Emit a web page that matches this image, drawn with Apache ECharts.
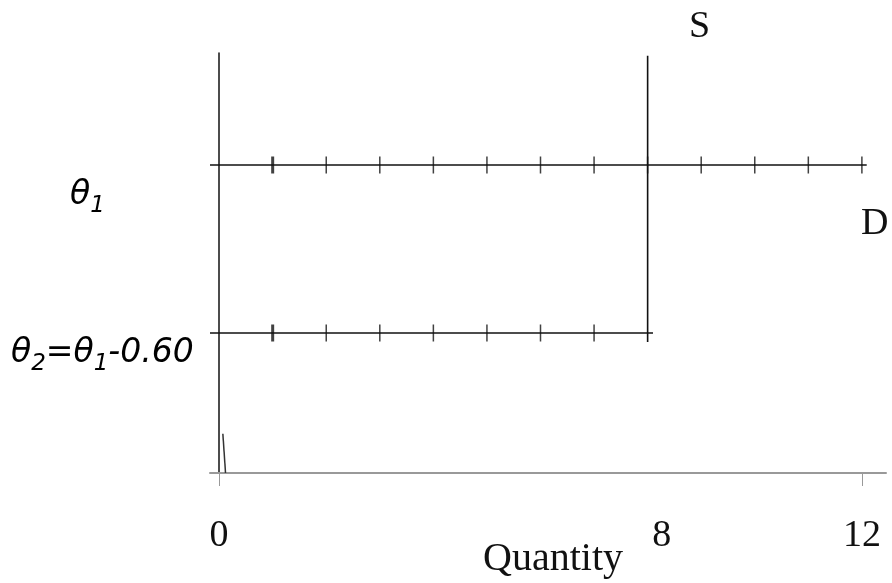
<!DOCTYPE html>
<html>
<head>
<meta charset="utf-8">
<script src="https://cdn.jsdelivr.net/npm/echarts@6/dist/echarts.min.js"></script>
<style>html,body{margin:0;padding:0;background:#fff}#c{width:892px;height:583px}</style>
</head>
<body>
<div id="c"></div>
<script>
// ---- data ----
var theta1 = 1.1;            // upper price level
var theta2 = 0.5;            // lower price level (theta1 - 0.60)
var supplyQty = 8;           // vertical supply at Q = 8
var upperLineX = [-0.17, 12.09];
var lowerLineX = [-0.17, 8.1];
var supplyY = [1.49, 0.468];
var upperTicks = [1, 2, 3, 4, 5, 6, 7, 8, 9, 10, 11, 12];
var lowerTicks = [1, 2, 3, 4, 5, 6, 7];
var originStub = [[0.07, 0.14], [0.12, 0.0]];
var xTickLabels = [0, 8, 12];
var xTickMarks = [0, 12];

var chart = echarts.init(document.getElementById('c'));
var serif = 'Liberation Serif';
var sans = 'DejaVu Sans';

function tickData(arr, y) {
  return arr.map(function (x) {
    return { value: [x, y], symbolSize: x === 1 ? [3, 17] : [1.5, 17] };
  });
}

var thetaRich = {
  m: { fontFamily: sans, fontStyle: 'italic', fontSize: 33, color: '#111', lineHeight: 44, verticalAlign: 'middle' },
  s: { fontFamily: sans, fontStyle: 'italic', fontSize: 23, color: '#111', lineHeight: 22, verticalAlign: 'bottom' }
};

var lineBase = { type: 'line', symbol: 'none', silent: true, clip: false };

chart.setOption({
  animation: false,
  grid: { left: 210, top: 53, width: 676, height: 420, outerBoundsMode: 'none', containLabel: false },
  xAxis: {
    type: 'value', min: -0.17, max: 12.45,
    splitLine: { show: false },
    axisLine: { onZero: false, lineStyle: { color: '#999', width: 2 } },
    axisTick: { show: true, customValues: xTickMarks, length: 13, lineStyle: { color: '#999', width: 1 } },
    axisLabel: {
      customValues: xTickLabels, fontFamily: serif, fontSize: 38, color: '#111', margin: 44,
      formatter: function (v) { return v === 8 ? '{e|8}' : String(v); },
      rich: { e: { fontFamily: serif, fontSize: 38, color: '#111', padding: [0, 0, 0, 28] } }
    },
    name: 'Quantity', nameLocation: 'middle', nameGap: 66, nameMoveOverlap: false,
    nameTextStyle: { fontFamily: serif, fontSize: 40, color: '#111', padding: [0, 0, 0, 10] }
  },
  yAxis: {
    type: 'value', min: 0, max: 1.5,
    splitLine: { show: false },
    axisLine: { show: true, onZero: true, lineStyle: { color: '#111', width: 1.5 } },
    axisTick: { show: false },
    axisLabel: { show: false }
  },
  series: [
    Object.assign({}, lineBase, { lineStyle: { color: '#111', width: 1.6 },
      data: [[upperLineX[0], theta1], [upperLineX[1], theta1]] }),
    Object.assign({}, lineBase, { lineStyle: { color: '#111', width: 1.6 },
      data: [[lowerLineX[0], theta2], [lowerLineX[1], theta2]] }),
    Object.assign({}, lineBase, { lineStyle: { color: '#111', width: 1.6 },
      data: [[supplyQty, supplyY[0]], [supplyQty, supplyY[1]]] }),
    Object.assign({}, lineBase, { lineStyle: { color: '#333', width: 1.5 },
      data: originStub }),
    { type: 'scatter', symbol: 'rect', silent: true, clip: false, itemStyle: { color: '#111' },
      data: tickData(upperTicks, theta1) },
    { type: 'scatter', symbol: 'rect', silent: true, clip: false, itemStyle: { color: '#111' },
      data: tickData(lowerTicks, theta2) }
  ],
  graphic: [
    { type: 'text', left: 689, top: 8, style: { text: 'S', font: '38px "Liberation Serif"', fill: '#111' } },
    { type: 'text', left: 861, top: 205, style: { text: 'D', font: '38px "Liberation Serif"', fill: '#111' } },
    { type: 'text', left: 70, top: 179, style: { text: '{m|θ}{s|1}', rich: thetaRich } },
    { type: 'text', left: 11, top: 337, style: { text: '{m|θ}{s|2}{m|=θ}{s|1}{m|-0.60}', rich: thetaRich } }
  ]
});
</script>
</body>
</html>
